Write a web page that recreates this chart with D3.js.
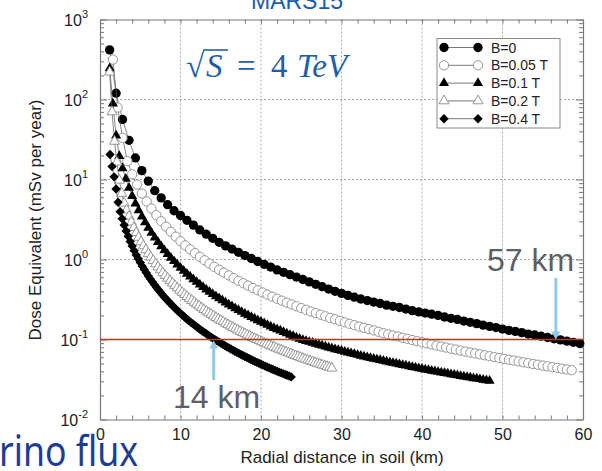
<!DOCTYPE html>
<html>
<head>
<meta charset="utf-8">
<script src="https://cdn.jsdelivr.net/npm/d3@7"></script>
<style>
body{margin:0;background:#fff;}
</style>
</head>
<body>
<svg id="chart" width="602" height="471"></svg>
<script>
// dose equivalent (mSv per year); markers sit on a regular km grid per series
const startB0=1.2,   stepB0=0.8;
const doseB0=[417,120,56.2,30.9,18.6,12.9,9.55,7.24,5.89,4.84,4.07,3.55,3.09,2.69,2.34,2.07,1.84,1.64,1.48,1.35,1.23,1.12,1.03,0.944,0.871,0.804,0.741,0.692,0.646,0.603,0.562,0.525,0.490,0.457,0.427,0.400,0.377,0.356,0.338,0.321,0.307,0.294,0.282,0.269,0.260,0.251,0.240,0.229,0.221,0.214,0.207,0.200,0.191,0.184,0.178,0.170,0.164,0.158,0.151,0.146,0.141,0.135,0.130,0.126,0.122,0.117,0.114,0.110,0.106,0.102,0.0989,0.0955,0.0923,0.0891];
const startB005=1.6, stepB005=0.6;
const doseB005=[316,79.4,33.1,17.0,11.6,8.65,6.69,5.32,4.33,3.58,3.01,2.57,2.22,1.93,1.69,1.50,1.34,1.20,1.08,0.977,0.888,0.811,0.744,0.684,0.632,0.584,0.542,0.505,0.471,0.440,0.413,0.387,0.364,0.343,0.323,0.306,0.289,0.275,0.260,0.247,0.235,0.224,0.214,0.204,0.195,0.186,0.179,0.171,0.164,0.157,0.151,0.145,0.140,0.135,0.130,0.125,0.120,0.116,0.112,0.109,0.105,0.102,0.0983,0.0952,0.0922,0.0894,0.0867,0.0841,0.0816,0.0793,0.0770,0.0748,0.0727,0.0707,0.0687,0.0670,0.0652,0.0635,0.0618,0.0602,0.0587,0.0572,0.0558,0.0545,0.0532,0.0519,0.0506,0.0494,0.0484,0.0472,0.0462,0.0451,0.0442,0.0432,0.0422,0.0413];
const startB01=1.2,  stepB01=0.4;
const doseB01=[245,89,35.5,19.6,13.8,10.2,7.86,6.20,5.00,4.11,3.44,2.91,2.49,2.15,1.88,1.65,1.46,1.30,1.17,1.05,0.952,0.865,0.789,0.722,0.664,0.611,0.565,0.524,0.486,0.453,0.422,0.395,0.370,0.347,0.327,0.308,0.290,0.274,0.259,0.246,0.233,0.221,0.210,0.200,0.191,0.182,0.174,0.166,0.159,0.152,0.145,0.139,0.134,0.129,0.124,0.119,0.114,0.110,0.106,0.102,0.0986,0.0958,0.0932,0.0907,0.0883,0.0860,0.0837,0.0816,0.0795,0.0775,0.0756,0.0738,0.0720,0.0703,0.0687,0.0671,0.0656,0.0641,0.0627,0.0613,0.0600,0.0587,0.0575,0.0563,0.0552,0.0540,0.0529,0.0519,0.0509,0.0499,0.0489,0.0480,0.0471,0.0462,0.0453,0.0445,0.0437,0.0429,0.0422,0.0414,0.0407,0.0400,0.0393,0.0387,0.0380,0.0374,0.0368,0.0362,0.0356,0.0350,0.0344,0.0339,0.0334,0.0328,0.0324,0.0319,0.0314,0.0309,0.0304];
const startB02=1.2,  stepB02=0.3;
const doseB02=[220,70,30,16.5,9.8,6.7,5.07,4.15,3.46,2.92,2.50,2.16,1.89,1.66,1.48,1.32,1.18,1.07,0.968,0.881,0.807,0.741,0.681,0.630,0.583,0.542,0.505,0.471,0.441,0.413,0.388,0.365,0.344,0.325,0.307,0.291,0.276,0.262,0.249,0.237,0.226,0.215,0.206,0.197,0.188,0.180,0.173,0.166,0.159,0.153,0.147,0.141,0.136,0.131,0.126,0.122,0.118,0.114,0.110,0.106,0.103,0.0995,0.0964,0.0934,0.0906,0.0879,0.0852,0.0827,0.0803,0.0780,0.0757,0.0736,0.0717,0.0698,0.0679,0.0661,0.0644,0.0627,0.0611,0.0596,0.0581,0.0566,0.0552,0.0540,0.0527,0.0514,0.0502,0.0491,0.0480,0.0469,0.0459,0.0448,0.0438];
const startB04=1.25, stepB04=0.25;
const doseB04=[20.5,14.5,10.8,7.6,5.2,3.96,3.24,2.69,2.27,1.95,1.68,1.47,1.29,1.14,1.02,0.916,0.826,0.749,0.682,0.623,0.572,0.526,0.486,0.450,0.418,0.389,0.363,0.339,0.318,0.299,0.281,0.265,0.250,0.236,0.223,0.212,0.201,0.191,0.182,0.173,0.165,0.158,0.151,0.144,0.138,0.132,0.127,0.122,0.117,0.112,0.108,0.104,0.100,0.0967,0.0933,0.0900,0.0869,0.0840,0.0812,0.0785,0.0760,0.0736,0.0713,0.0691,0.0670,0.0650,0.0631,0.0612,0.0595,0.0578,0.0562,0.0546,0.0532,0.0517,0.0504,0.0490,0.0478,0.0465,0.0454,0.0442,0.0431,0.0421,0.0411,0.0401,0.0391,0.0382,0.0374,0.0365,0.0357,0.0349,0.0341];

const legendLabels=["B=0","B=0.05 T","B=0.1 T","B=0.2 T","B=0.4 T"];
const xTickValues=[0,10,20,30,40,50,60];
const yDecades=[0.01,0.1,1,10,100,1000];
const yDecadeExp=["-2","-1","0","1","2","3"];
const limitDose=0.1;
const marks=[{km:57,label:"57 km"},{km:14,label:"14 km"}];

function grid(start,step,n){ return d3.range(n).map(i=>+(start+i*step).toFixed(2)); }

const svg=d3.select('#chart');
const sans='"Liberation Sans", Arial, sans-serif';
const x=d3.scaleLinear().domain([0,60]).range([100,583]);
const y=d3.scaleLog().domain([0.01,1000]).range([419.5,19.5]);

const xMinor=d3.range(0,61,2);
let yMinor=[];
yDecades.forEach((d,i)=>{ if(i<yDecades.length-1) for(let m=1;m<10;m++) yMinor.push(d*m); });
yMinor.push(1000);

// dotted grid
const gridG=svg.append('g').attr('stroke','#a8a8a8').attr('stroke-dasharray','2,2').attr('stroke-width',1);
xTickValues.slice(1,-1).forEach(v=>{
  gridG.append('line').attr('x1',x(v)).attr('x2',x(v)).attr('y1',y(1000)).attr('y2',y(0.01));
});
yDecades.slice(1,-1).forEach(v=>{
  gridG.append('line').attr('x1',x(0)).attr('x2',x(60)).attr('y1',y(v)).attr('y2',y(v));
});

// axes with inward ticks on all four sides
const axisColor='#777';
const gx=svg.append('g').attr('transform','translate(0,'+y(0.01)+')')
  .call(d3.axisBottom(x).tickValues(xMinor).tickSizeInner(-4).tickSizeOuter(0).tickPadding(9)
  .tickFormat(d=>d%10===0?d:''));
const gxt=svg.append('g').attr('transform','translate(0,'+y(1000)+')')
  .call(d3.axisTop(x).tickValues(xMinor).tickSizeInner(-4).tickSizeOuter(0).tickFormat(''));
const gy=svg.append('g').attr('transform','translate('+x(0)+',0)')
  .call(d3.axisLeft(y).tickValues(yMinor).tickSizeInner(-4).tickSizeOuter(0).tickFormat(''));
const gyr=svg.append('g').attr('transform','translate('+x(60)+',0)')
  .call(d3.axisRight(y).tickValues(yMinor).tickSizeInner(-4).tickSizeOuter(0).tickFormat(''));
[gx,gxt,gy,gyr].forEach(g=>{
  g.select('.domain').attr('stroke',axisColor).attr('stroke-width',1.2);
  g.selectAll('.tick line').attr('stroke',axisColor);
});
gy.selectAll('.tick line').filter(d=>yDecades.includes(d)).attr('x2',7);
gyr.selectAll('.tick line').filter(d=>yDecades.includes(d)).attr('x2',-7);
gx.selectAll('.tick text').attr('font-size',16).attr('fill','#222').style('font-family',sans);

// y tick labels 10^n
const ylab=svg.append('g');
yDecades.forEach((v,i)=>{
  const t=ylab.append('text').attr('x',88).attr('y',y(v)+6).attr('text-anchor','end')
    .attr('font-size',16).attr('fill','#222').style('font-family',sans);
  t.append('tspan').text('10');
  t.append('tspan').attr('dy',-8).attr('font-size',11).text(yDecadeExp[i]);
});

// axis titles
svg.append('text').attr('x',342).attr('y',463).attr('text-anchor','middle').style('font-family',sans)
  .attr('font-size',17).attr('fill','#222').text('Radial distance in soil (km)');
svg.append('text').attr('transform','translate(41,220) rotate(-90)').attr('text-anchor','middle').style('font-family',sans)
  .attr('font-size',17).attr('fill','#222').text('Dose Equivalent (mSv per year)');

// series
const series=[
  {dist:grid(startB0,stepB0,doseB0.length),dose:doseB0,shape:'circle',open:false},
  {dist:grid(startB005,stepB005,doseB005.length),dose:doseB005,shape:'circle',open:true},
  {dist:grid(startB01,stepB01,doseB01.length),dose:doseB01,shape:'triangle',open:false},
  {dist:grid(startB02,stepB02,doseB02.length),dose:doseB02,shape:'triangle',open:true},
  {dist:grid(startB04,stepB04,doseB04.length),dose:doseB04,shape:'diamond',open:false}
];
function symbolPath(shape){
  if(shape==='circle') return d3.symbol().type(d3.symbolCircle).size(68)();
  if(shape==='triangle') return d3.symbol().type(d3.symbolTriangle).size(44)();
  return d3.symbol().type(d3.symbolSquare).size(44)();
}
function drawMarker(g,s,px,py){
  g.append('path').attr('d',symbolPath(s.shape))
    .attr('transform','translate('+px+','+py+')'+(s.shape==='diamond'?' rotate(45)':''))
    .attr('fill',s.open?'#fff':'#000')
    .attr('stroke',s.open?'#8a8a8a':'none').attr('stroke-width',0.9);
}
const line=d3.line().x(d=>x(d[0])).y(d=>y(d[1]));
const plot=svg.append('g');
series.forEach(s=>{
  const pts=s.dist.map((d,i)=>[d,s.dose[i]]);
  const g=plot.append('g');
  g.append('path').attr('d',line(pts)).attr('fill','none').attr('stroke','#555').attr('stroke-width',0.7);
  pts.forEach(p=>drawMarker(g,s,x(p[0]),y(p[1])));
});

// 0.1 mSv line
svg.append('line').attr('x1',x(0)).attr('x2',x(60)).attr('y1',y(limitDose)).attr('y2',y(limitDose))
  .attr('stroke','#e8201c').attr('stroke-width',1.6);

// legend
const lg=svg.append('g');
lg.append('rect').attr('x',437).attr('y',38.5).attr('width',123).attr('height',89.5)
  .attr('fill','#fff').attr('stroke','#888').attr('stroke-width',1);
series.forEach((s,i)=>{
  const ly=47.5+i*17.8;
  lg.append('line').attr('x1',444).attr('x2',478).attr('y1',ly).attr('y2',ly).attr('stroke','#555').attr('stroke-width',0.8);
  drawMarker(lg,s,444,ly);
  drawMarker(lg,s,478,ly);
  lg.append('text').attr('x',491).attr('y',ly+5).attr('font-size',14).attr('fill','#222').style('font-family',sans).text(legendLabels[i]);
});

// annotations with arrows
const annot=svg.append('g');
function arrow(px,yTail,yTip){
  annot.append('line').attr('x1',px).attr('x2',px).attr('y1',yTail).attr('y2',yTip+(yTail>yTip?7:-7))
    .attr('stroke','#8fcbe5').attr('stroke-width',3);
  const dir=yTail>yTip?1:-1;
  annot.append('path').attr('d','M'+(px-4.5)+','+(yTip+dir*8)+'L'+(px+4.5)+','+(yTip+dir*8)+'L'+px+','+yTip+'Z')
    .attr('fill','#8fcbe5');
}
arrow(x(marks[0].km)-3,278,y(limitDose));
annot.append('text').attr('x',487).attr('y',271).attr('font-size',32).attr('fill','#5e5e66').style('font-family',sans).text(marks[0].label);
arrow(x(marks[1].km)+1,380,y(limitDose)+1);
annot.append('text').attr('x',173).attr('y',408).attr('font-size',32).attr('fill','#5e5e66').style('font-family',sans).text(marks[1].label);

// titles
svg.append('text').attr('x',297).attr('y',8.5).attr('text-anchor','middle').attr('font-size',23).style('font-family',sans)
  .attr('fill','#1a5cab').text('MARS15');
const serif='"Liberation Serif", "Times New Roman", serif';
const eq=svg.append('g').attr('fill','#1f5ea8').attr('font-size',33);
eq.append('text').attr('x',186).attr('y',77).style('font-family',serif).text('√');
eq.append('text').attr('x',206).attr('y',77).style('font-family',serif).style('font-style','italic').text('S');
eq.append('line').attr('x1',203).attr('x2',228).attr('y1',50).attr('y2',50).attr('stroke','#1f5ea8').attr('stroke-width',1.6);
eq.append('text').attr('x',237).attr('y',77).style('font-family',serif).text('=');
eq.append('text').attr('x',271).attr('y',77).style('font-family',serif).text('4');
eq.append('text').attr('x',297).attr('y',77).style('font-family',serif).style('font-style','italic').text('TeV');

svg.append('text').attr('x',-1).attr('y',466).style('font-family','"Noto Sans", sans-serif').attr('font-size',42)
  .attr('fill','#1d3d94').attr('textLength',139).attr('lengthAdjust','spacingAndGlyphs').text('rino flux');
</script>
</body>
</html>
